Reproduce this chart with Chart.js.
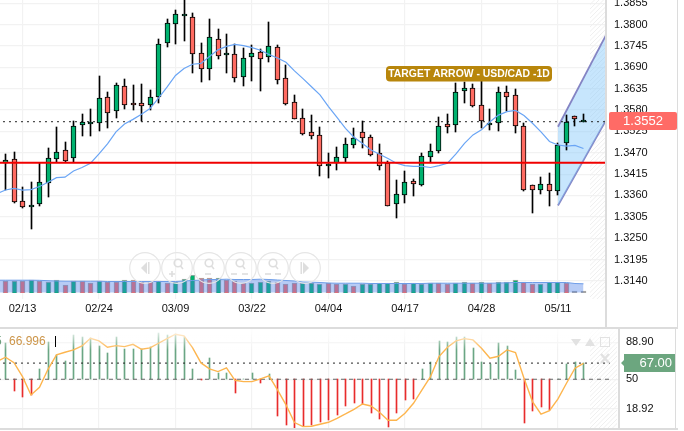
<!DOCTYPE html>
<html>
<head>
<meta charset="utf-8">
<title>USD/CAD</title>
<script src="https://cdn.jsdelivr.net/npm/chart.js@4/dist/chart.umd.min.js"></script>
<style>
  html, body { margin: 0; padding: 0; background: #fff; overflow: hidden; }
  canvas { position: absolute; left: 0; }
  #priceChart { top: 0; }
  #rsiChart { top: 329px; }
  .rule { position: absolute; background: #dcdcdc; }
</style>
</head>
<body>
<canvas id="priceChart" width="684" height="327"></canvas>
<canvas id="rsiChart" width="684" height="99"></canvas>
<div class="rule" style="left:605px;top:0;width:2px;height:327px"></div>
<div class="rule" style="left:677px;top:0;width:1px;height:327px"></div>
<div class="rule" style="left:0;top:327px;width:678px;height:2px"></div>
<div class="rule" style="left:618px;top:329px;width:2px;height:99px"></div>
<div class="rule" style="left:675px;top:329px;width:1px;height:99px"></div>
<div class="rule" style="left:0;top:428px;width:678px;height:2px"></div>
<script>
'use strict';

// Date labels sit on every ninth bar
let tickIndex = [2, 11, 20, 29, 38, 47, 56, 65];
let tickLabels = ['02/13', '02/24', '03/09', '03/22', '04/04', '04/17', '04/28', '05/11'];
let priceTicks = [1.3855, 1.38, 1.3745, 1.369, 1.3635, 1.358, 1.3525, 1.347, 1.3415, 1.336, 1.3305, 1.325, 1.3195, 1.314];
let rsiTicks = [18.92, 50, 88.9];
let rsiTickLabels = ['18.92', '50', '88.90'];

// Daily candles
let opens = [1.3444, 1.3453, 1.3347, 1.3334, 1.3339, 1.3391, 1.3455, 1.3476, 1.3456, 1.3542, 1.3548, 1.3546, 1.3613, 1.3577, 1.3641, 1.3597, 1.3597, 1.3594, 1.3614, 1.3754, 1.3801, 1.3824, 1.3819, 1.3726, 1.3685, 1.3762, 1.3721, 1.3724, 1.3666, 1.3716, 1.3729, 1.3716, 1.3742, 1.3662, 1.3602, 1.3559, 1.3523, 1.3517, 1.3437, 1.3443, 1.3457, 1.3491, 1.3523, 1.351, 1.3469, 1.3443, 1.3339, 1.3362, 1.3396, 1.3388, 1.346, 1.3475, 1.3543, 1.3541, 1.3628, 1.3636, 1.3592, 1.3543, 1.3546, 1.3626, 1.3618, 1.3538, 1.3386, 1.3373, 1.3389, 1.3371, 1.3494, 1.3564, 1.3553];
let closes = [1.3451, 1.3344, 1.3331, 1.3335, 1.3394, 1.3456, 1.3471, 1.345, 1.3538, 1.3549, 1.355, 1.361, 1.3573, 1.3644, 1.3594, 1.3595, 1.3591, 1.3613, 1.3749, 1.3803, 1.3827, 1.3827, 1.3724, 1.3685, 1.3767, 1.3718, 1.3726, 1.3663, 1.3713, 1.3726, 1.3712, 1.3744, 1.3658, 1.3596, 1.3556, 1.3519, 1.3514, 1.3435, 1.3441, 1.3458, 1.3492, 1.3507, 1.3507, 1.3465, 1.3437, 1.3334, 1.3363, 1.3394, 1.3389, 1.3461, 1.3474, 1.3538, 1.3537, 1.3626, 1.3636, 1.3591, 1.3551, 1.3546, 1.3626, 1.3614, 1.3538, 1.3373, 1.3373, 1.3389, 1.3371, 1.3491, 1.3548, 1.3556, 1.3555];
let highs = [1.3466, 1.3473, 1.3381, 1.3394, 1.3443, 1.3481, 1.3537, 1.3497, 1.3551, 1.3569, 1.3582, 1.3667, 1.3626, 1.3649, 1.3659, 1.3644, 1.3646, 1.3631, 1.3762, 1.3815, 1.3838, 1.387, 1.3829, 1.3752, 1.3814, 1.3788, 1.3776, 1.3749, 1.3739, 1.3748, 1.3736, 1.3806, 1.3747, 1.3695, 1.3618, 1.3582, 1.3566, 1.3537, 1.3469, 1.3484, 1.3507, 1.3533, 1.3553, 1.3517, 1.3492, 1.345, 1.3399, 1.3422, 1.3402, 1.3469, 1.3492, 1.3563, 1.357, 1.3649, 1.3653, 1.3647, 1.3657, 1.3584, 1.3639, 1.3642, 1.3633, 1.3546, 1.3387, 1.3408, 1.3417, 1.3494, 1.3566, 1.3565, 1.3569];
let lows = [1.3374, 1.334, 1.3327, 1.3274, 1.3334, 1.3357, 1.3446, 1.3446, 1.3446, 1.3514, 1.3514, 1.3527, 1.3535, 1.356, 1.3584, 1.3581, 1.3553, 1.3581, 1.3599, 1.3743, 1.375, 1.3759, 1.3676, 1.3651, 1.3657, 1.3712, 1.3676, 1.3651, 1.3643, 1.3656, 1.363, 1.3705, 1.3648, 1.3592, 1.3556, 1.3515, 1.3506, 1.3411, 1.3406, 1.3426, 1.3445, 1.3483, 1.3483, 1.3462, 1.3426, 1.3334, 1.3303, 1.3341, 1.3359, 1.3384, 1.3447, 1.347, 1.3522, 1.3523, 1.3597, 1.3589, 1.3535, 1.3529, 1.3527, 1.3578, 1.352, 1.3371, 1.3316, 1.3364, 1.3334, 1.3362, 1.3478, 1.354, 1.3548];

// Moving average, first value is the bar just off the left edge
let movingAverage = [1.3365, 1.3374, 1.3378, 1.3374, 1.3375, 1.3383, 1.3394, 1.3406, 1.3407, 1.3423, 1.3432, 1.3443, 1.3467, 1.3493, 1.3524, 1.3544, 1.3556, 1.3569, 1.3584, 1.3611, 1.3639, 1.3669, 1.3687, 1.3698, 1.37, 1.3718, 1.3735, 1.3744, 1.3749, 1.3746, 1.3741, 1.3734, 1.3723, 1.3714, 1.3703, 1.3681, 1.3661, 1.364, 1.3619, 1.3589, 1.3561, 1.3533, 1.351, 1.3494, 1.3477, 1.3466, 1.3455, 1.3443, 1.3437, 1.3435, 1.3435, 1.3432, 1.3437, 1.3443, 1.3467, 1.3494, 1.3516, 1.3529, 1.355, 1.3567, 1.3576, 1.3579, 1.3566, 1.3546, 1.3524, 1.3499, 1.349, 1.3487, 1.3489, 1.3481];

let volumes = [12, 11.7, 11.7, 13, 11.7, 11, 13, 8, 11.7, 11.7, 10, 11.7, 11, 10.3, 13, 13, 11, 10.7, 11.7, 10, 10.7, 13.7, 17.7, 14.7, 14.7, 15, 13, 11.7, 10, 10, 11, 11.7, 10.3, 9, 9.7, 9.7, 9.3, 9, 9.3, 9, 9, 6.7, 8.7, 8.3, 9.7, 10, 10.7, 8.3, 9.7, 9, 9.7, 9.3, 8.7, 9.3, 10.7, 9.7, 10.3, 9.7, 10.3, 10.3, 13, 11, 8.7, 8.3, 10.7, 11, 10, 1.3, 1.3];
let volumeUp = [0, 1, 0, 1, 0, 1, 1, 0, 1, 0, 0, 1, 0, 0, 1, 0, 0, 0, 1, 0, 1, 1, 1, 0, 0, 1, 0, 0, 0, 1, 1, 1, 0, 0, 0, 1, 1, 1, 0, 0, 1, 0, 1, 1, 1, 1, 1, 0, 1, 1, 1, 0, 0, 1, 1, 0, 1, 0, 1, 1, 1, 0, 0, 1, 1, 1, 0, 2, 2];
let volumeAverage = [12.3, 12.3, 12.3, 12.3, 12.3, 12.2, 11.8, 11.5, 11.3, 11.3, 11.3, 11.3, 11.3, 11, 11, 11, 11, 11, 11, 11, 11, 11, 11.5, 12, 12.5, 13, 13, 13.3, 13, 13, 13, 13.3, 13, 12.5, 12, 11.5, 10.5, 10.3, 10, 9.5, 9.3, 9.3, 9.3, 9.3, 9, 9, 9, 9, 9, 9, 9, 9.3, 9.3, 9.3, 9.3, 9.3, 9.3, 9.3, 9.3, 9.5, 9.7, 10, 10, 10, 10, 10, 10, 10, 9, 8.7];

// Target arrow channel and the two flat price lines
let channelX = [65, 70.65];
let channelTop = [1.3537, 1.3773];
let channelBottom = [1.3334, 1.3554];
let supportLevel = 1.3444;
let dottedLevel = 1.355;
let lastPriceLabel = '1.3552';
let bannerText = 'TARGET ARROW - USD/CAD -1D';

// Oscillator panel
let rsiBars = [88.6, 38.1, 31.8, 33.5, 60.5, 89.6, 75.6, 69.3, 96.3, 94.9, 93.2, 85.1, 77.4, 94.9, 81.6, 81.6, 81.6, 83.7, 98.4, 96.7, 97.4, 94.2, 60.5, 48.9, 72.1, 56.3, 56.3, 35.3, 50.7, 56.3, 46.5, 55.3, 11.8, 1.6, -0.9, 0.9, 1.6, 5.4, 7.2, 12.5, 21.6, 24.7, 24, 14.2, 7.9, -0.5, 14.2, 28.2, 29.3, 60.5, 68.6, 90.7, 89.6, 94.2, 94.9, 82.6, 67.9, 65.8, 88.6, 85.1, 59.8, 3.7, 16.3, 20.5, 17.7, 50, 65.8, 68.6, 66.8];
let rsiLine = [68.6, 73.2, 67.5, 52.8, 33.5, 41.6, 60.5, 75.6, 78.4, 80.9, 85.1, 93.2, 90.4, 83.7, 85.4, 84.4, 86.8, 81.6, 83, 87.9, 92.8, 97.4, 95.6, 83.3, 67.2, 60.9, 58.1, 61.9, 48.9, 47.5, 47.5, 50.4, 53.5, 38.8, 23, 4.4, 0.2, 0.5, 2.6, 4.7, 8.9, 13.5, 18.4, 24, 21.9, 15.3, 6.8, 6.8, 14.2, 24.7, 38.8, 52.8, 73.9, 83.7, 90.4, 92.8, 91.4, 82.6, 72.1, 74.2, 80.9, 78.1, 51.1, 26.5, 13.2, 17, 29.3, 45.8, 61.6, 66.8];
let rsiMid = 50;
let rsiSignal = 67;
let rsiValueText = '66.996';
let rsiTagText = '67.00';

const UP = '#00b26f';
const DOWN = '#ff6b61';
const FONT = '"Liberation Sans", Arial, sans-serif';

function upBar(i) {
  return closes[i] >= opens[i];
}

function pointsFrom(values, firstIndex) {
  return values.map((v, i) => ({ x: i + firstIndex, y: v }));
}

function flatLine(level, x0, x1) {
  return [{ x: x0, y: level }, { x: x1, y: level }];
}

// the axis bands are fixed width, and the top and bottom labels may overflow
function fixWidth(width) {
  return function (scale) {
    scale.width = width;
    scale.paddingTop = 0;
    scale.paddingBottom = 0;
  };
}

function fixHeight(height) {
  return function (scale) {
    scale.height = height;
    scale.paddingLeft = 0;
    scale.paddingRight = 0;
  };
}

function useTicks(values) {
  return function (scale) {
    scale.ticks = values.map(v => ({ value: v }));
  };
}

// Bars land on half pixels with this spacing, snap them so wicks stay crisp
let snapBars = {
  id: 'snapBars',
  afterDatasetsUpdate(chart) {
    chart.getSortedVisibleDatasetMetas().forEach(meta => {
      if (meta.type !== 'bar') {
        return;
      }
      let bordered = chart.data.datasets[meta.index].borderWidth > 0;
      for (let el of meta.data) {
        el.x = Math.floor(el.x + 0.01) + 0.5;
        let top = Math.round(Math.min(el.y, el.base));
        let bottom = Math.round(Math.max(el.y, el.base));
        // a doji still shows as a small black dash
        if (bordered && bottom - top < 2) {
          bottom = top + 2;
        }
        el.y = top;
        el.base = bottom;
        el.height = bottom - top;
      }
    });
  }
};

function hatch(ctx, x0, y0, x1, y1) {
  ctx.save();
  ctx.beginPath();
  ctx.rect(x0, y0, x1 - x0, y1 - y0);
  ctx.clip();
  ctx.strokeStyle = '#efefef';
  ctx.lineWidth = 1;
  for (let s = x0 - (y1 - y0); s < x1; s += 4.5) {
    ctx.beginPath();
    ctx.moveTo(s, y1);
    ctx.lineTo(s + (y1 - y0), y0);
    ctx.stroke();
  }
  ctx.restore();
}

function magnifier(ctx, x, y) {
  ctx.beginPath();
  ctx.arc(x + 2, y - 4, 3.8, 0, Math.PI * 2);
  ctx.moveTo(x + 4.5, y - 1);
  ctx.lineTo(x + 7, y + 2);
  ctx.stroke();
}

function sign(ctx, x, y, vertical) {
  ctx.beginPath();
  ctx.moveTo(x - 3, y);
  ctx.lineTo(x + 3, y);
  if (vertical) {
    ctx.moveTo(x, y - 3);
    ctx.lineTo(x, y + 3);
  }
  ctx.stroke();
}

// Navigation buttons floating over the volume
function drawButtons(ctx) {
  let centers = [145, 177, 209, 241, 273, 305];
  let y = 268;
  ctx.save();
  ctx.lineWidth = 1.2;
  ctx.strokeStyle = '#e6e6e6';
  for (let x of centers) {
    ctx.beginPath();
    ctx.arc(x, y, 15.3, 0, Math.PI * 2);
    ctx.stroke();
  }
  ctx.fillStyle = '#dedede';
  ctx.strokeStyle = '#dedede';
  ctx.lineWidth = 1.6;
  // left and right arrows
  ctx.beginPath();
  ctx.moveTo(141, y);
  ctx.lineTo(147, y - 6);
  ctx.lineTo(147, y + 6);
  ctx.fill();
  ctx.fillRect(148, y - 6, 1.5, 12);
  ctx.beginPath();
  ctx.moveTo(309, y);
  ctx.lineTo(303, y - 6);
  ctx.lineTo(303, y + 6);
  ctx.fill();
  ctx.fillRect(300.5, y - 6, 1.5, 12);
  // zoom glyphs
  magnifier(ctx, 176, y - 1);
  sign(ctx, 172, y + 6, true);
  magnifier(ctx, 207, y - 1);
  sign(ctx, 208, y + 6, false);
  magnifier(ctx, 238, y - 1);
  sign(ctx, 234, y + 6, false);
  sign(ctx, 245, y + 6, false);
  magnifier(ctx, 271, y - 1);
  sign(ctx, 268, y + 6, false);
  sign(ctx, 278, y + 6, false);
  ctx.restore();
}

// Hatching sits under the candles, everything else goes on top
let priceDecor = {
  id: 'priceDecor',
  beforeDatasetsDraw(chart) {
    hatch(chart.ctx, 590, 0, 605, 299);
  },
  afterDraw(chart) {
    let ctx = chart.ctx;
    drawButtons(ctx);

    ctx.save();
    ctx.fillStyle = '#b8860b';
    ctx.beginPath();
    ctx.roundRect(386, 66, 166, 15.5, 4);
    ctx.fill();
    ctx.fillStyle = '#fff';
    ctx.font = 'bold 10.4px ' + FONT;
    ctx.textAlign = 'center';
    ctx.textBaseline = 'middle';
    ctx.fillText(bannerText, 469, 74);

    ctx.fillStyle = '#ff6b66';
    ctx.beginPath();
    ctx.roundRect(609, 112, 68, 18, 2);
    ctx.fill();
    ctx.fillStyle = '#fff';
    ctx.font = '13px ' + FONT;
    ctx.fillText(lastPriceLabel, 643, 121);
    ctx.restore();
  }
};

let rsiDecor = {
  id: 'rsiDecor',
  beforeDatasetsDraw(chart) {
    hatch(chart.ctx, 590, 0, 617, 99);
  },
  afterDatasetsDraw(chart) {
    let ctx = chart.ctx;
    // the top of the panel fades out behind the legend
    let fade = ctx.createLinearGradient(0, 2, 0, 21);
    fade.addColorStop(0, 'rgba(255,255,255,0.85)');
    fade.addColorStop(1, 'rgba(255,255,255,0)');
    ctx.fillStyle = fade;
    ctx.fillRect(0, 0, 617, 21);
  },
  afterDraw(chart) {
    let ctx = chart.ctx;
    ctx.save();
    ctx.textBaseline = 'middle';
    ctx.font = '12px ' + FONT;
    ctx.fillStyle = '#6a9e7a';
    ctx.fillText('5', -5, 13);
    ctx.fillStyle = '#cc9549';
    ctx.fillText(rsiValueText, 9, 13);
    ctx.fillStyle = '#000';
    ctx.fillRect(55, 7, 1, 11);

    // icons, top right of the panel
    ctx.fillStyle = '#e2e2e2';
    ctx.beginPath();
    ctx.moveTo(571, 10);
    ctx.lineTo(581, 10);
    ctx.lineTo(576, 17);
    ctx.fill();
    ctx.beginPath();
    ctx.moveTo(585, 17);
    ctx.lineTo(595, 17);
    ctx.lineTo(590, 9);
    ctx.fill();
    ctx.strokeStyle = '#e2e2e2';
    ctx.lineWidth = 1;
    ctx.strokeRect(600.5, 8.5, 9, 9);
    ctx.lineWidth = 2.5;
    ctx.beginPath();
    ctx.moveTo(601, 25);
    ctx.lineTo(609, 34);
    ctx.moveTo(609, 25);
    ctx.lineTo(601, 34);
    ctx.stroke();

    // value tag with its small notch
    ctx.fillStyle = '#6ca67f';
    ctx.beginPath();
    ctx.moveTo(621, 34);
    ctx.lineTo(624, 31);
    ctx.lineTo(624, 25);
    ctx.lineTo(675, 25);
    ctx.lineTo(675, 43);
    ctx.lineTo(624, 43);
    ctx.lineTo(624, 37);
    ctx.fill();
    ctx.fillStyle = '#fff';
    ctx.font = '13px ' + FONT;
    ctx.textAlign = 'right';
    ctx.fillText(rsiTagText, 672, 34);
    ctx.restore();
  }
};

function renderPriceChart() {
  let chartObject = {
    type: 'bar',
    data: {
      datasets: [
        {
          data: pointsFrom(volumes, 0),
          yAxisID: 'yVol',
          order: 10,
          grouped: false,
          barThickness: 5,
          borderWidth: 1,
          borderColor: '#a6a6a6',
          backgroundColor: volumeUp.map(v => v === 2 ? '#a6a6a6' : (v ? UP : DOWN))
        },
        {
          type: 'line',
          data: pointsFrom(volumeAverage, -1),
          yAxisID: 'yVol',
          order: 9,
          fill: 'origin',
          backgroundColor: 'rgba(74,127,232,0.4)',
          borderColor: '#6e9de8',
          borderWidth: 1,
          pointRadius: 0,
          tension: 0
        },
        {
          type: 'line',
          data: channelX.map((x, i) => ({ x: x, y: channelTop[i] })),
          order: 8,
          fill: '+1',
          backgroundColor: 'rgba(130,200,250,0.45)',
          borderColor: '#8484c4',
          borderWidth: 1.8,
          pointRadius: 0
        },
        {
          type: 'line',
          data: channelX.map((x, i) => ({ x: x, y: channelBottom[i] })),
          order: 8,
          fill: false,
          borderColor: '#8484c4',
          borderWidth: 1.8,
          pointRadius: 0
        },
        {
          type: 'line',
          data: flatLine(dottedLevel, -1, 71),
          order: 7,
          borderColor: '#222',
          borderWidth: 1,
          borderDash: [2, 4],
          pointRadius: 0
        },
        {
          data: highs.map((h, i) => ({ x: i, y: [lows[i], h] })),
          order: 5,
          grouped: false,
          barThickness: 1,
          borderWidth: 0,
          backgroundColor: '#000'
        },
        {
          data: opens.map((o, i) => ({ x: i, y: [o, closes[i]] })),
          order: 4,
          grouped: false,
          barThickness: 5,
          borderWidth: 1,
          borderSkipped: false,
          borderColor: '#000',
          backgroundColor: opens.map((o, i) => upBar(i) ? UP : DOWN)
        },
        {
          type: 'line',
          data: pointsFrom(movingAverage, -1),
          order: 3,
          borderColor: '#6aa5f5',
          borderWidth: 1.2,
          pointRadius: 0,
          tension: 0
        },
        {
          type: 'line',
          data: flatLine(supportLevel, -1, 71),
          order: 1,
          borderColor: '#f00000',
          borderWidth: 2,
          pointRadius: 0
        }
      ]
    },
    options: {
      responsive: false,
      animation: false,
      layout: { padding: { right: 7 } },
      plugins: { legend: { display: false }, tooltip: { enabled: false } },
      scales: {
        x: {
          type: 'linear',
          offset: false,
          min: -0.647,
          max: 70.65,
          afterBuildTicks: useTicks(tickIndex),
          afterFit: fixHeight(28),
          grid: { offset: false, color: '#f2f2f2', lineWidth: 1.2, drawTicks: false },
          border: { display: false },
          ticks: {
            autoSkip: false,
            maxRotation: 0,
            padding: 3,
            color: '#111',
            font: { family: FONT, size: 11 },
            callback: value => tickLabels[tickIndex.indexOf(value)]
          }
        },
        y: {
          position: 'right',
          min: 1.30933,
          max: 1.38635,
          afterBuildTicks: useTicks(priceTicks),
          afterFit: fixWidth(71),
          grid: { color: '#f2f2f2', lineWidth: 1.2, drawTicks: false },
          border: { display: false },
          ticks: {
            autoSkip: false,
            padding: 8,
            color: '#111',
            font: { family: FONT, size: 11 },
            callback: value => value.toFixed(4)
          }
        },
        // volume has no axis of its own, it is just squeezed along the bottom
        yVol: { display: false, min: -6.5, max: 292.5 }
      }
    },
    plugins: [snapBars, priceDecor]
  };

  let ctx = document.getElementById('priceChart').getContext('2d');
  new Chart(ctx, chartObject);
}

function renderRsiChart() {
  let chartObject = {
    type: 'bar',
    data: {
      datasets: [
        {
          data: rsiBars.map((v, i) => ({ x: i, y: [rsiMid, v] })),
          order: 5,
          grouped: false,
          barThickness: 1,
          borderWidth: 0,
          backgroundColor: rsiBars.map(v => v >= rsiMid ? '#6aa684' : '#e82c2c')
        },
        {
          type: 'line',
          data: flatLine(rsiMid, -1, 71.1),
          order: 4,
          borderColor: '#666',
          borderWidth: 1,
          borderDash: [4, 4],
          pointRadius: 0
        },
        {
          type: 'line',
          data: flatLine(rsiSignal, -1, 71.1),
          order: 3,
          borderColor: '#222',
          borderWidth: 1,
          borderDash: [2, 4],
          pointRadius: 0
        },
        {
          type: 'line',
          data: pointsFrom(rsiLine, -1),
          order: 1,
          borderColor: '#fdb54e',
          borderWidth: 1.4,
          pointRadius: 0,
          tension: 0
        }
      ]
    },
    options: {
      responsive: false,
      animation: false,
      layout: { padding: { right: 9 } },
      plugins: { legend: { display: false }, tooltip: { enabled: false } },
      scales: {
        x: {
          type: 'linear',
          offset: false,
          min: -0.647,
          max: 72.06,
          afterBuildTicks: useTicks(tickIndex),
          afterFit: fixHeight(0),
          grid: { offset: false, color: '#f2f2f2', lineWidth: 1.2, drawTicks: false },
          border: { display: false },
          ticks: { display: false, autoSkip: false }
        },
        y: {
          position: 'right',
          min: -1.3,
          max: 102.9,
          afterBuildTicks: useTicks(rsiTicks),
          afterFit: fixWidth(57),
          grid: { color: '#f2f2f2', lineWidth: 1.2, drawTicks: false },
          border: { display: false },
          ticks: {
            autoSkip: false,
            padding: 8,
            color: '#111',
            font: { family: FONT, size: 11 },
            callback: value => rsiTickLabels[rsiTicks.indexOf(value)]
          }
        }
      }
    },
    plugins: [snapBars, rsiDecor]
  };

  let ctx = document.getElementById('rsiChart').getContext('2d');
  new Chart(ctx, chartObject);
}

renderPriceChart();
renderRsiChart();
</script>
</body>
</html>
